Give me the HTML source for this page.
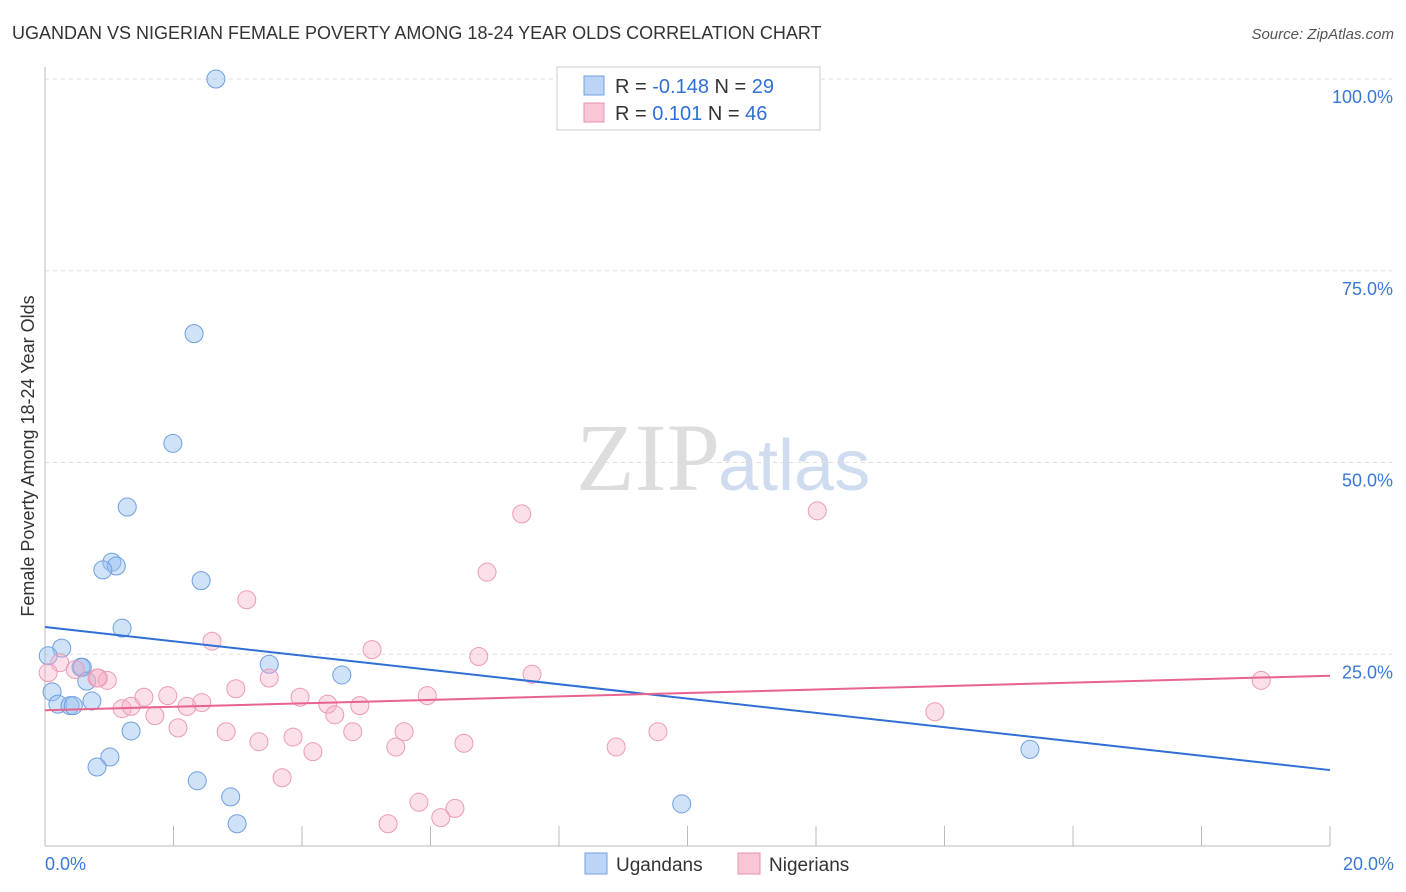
<!DOCTYPE html>
<html><head><meta charset="utf-8"><style>
body{margin:0;background:#fff;font-family:"Liberation Sans",sans-serif}
svg{display:block}
</style></head><body>
<svg id="c" width="1406" height="892">
<text x="12" y="39" font-size="18" fill="#333">UGANDAN VS NIGERIAN FEMALE POVERTY AMONG 18-24 YEAR OLDS CORRELATION CHART</text>
<text x="1394" y="39" font-size="15" fill="#555" font-style="italic" text-anchor="end">Source: ZipAtlas.com</text>
<text x="720" y="490" font-size="96" fill="#ddd" text-anchor="end" font-family="Liberation Serif">ZIP</text>
<text x="718" y="490" font-size="72" fill="#cfdcf0">atlas</text>
<text transform="translate(34,456) rotate(-90)" font-size="18" fill="#333" text-anchor="middle">Female Poverty Among 18-24 Year Olds</text>
<g id="grid"></g><g id="axes"></g><g id="pts"></g><g id="lines"></g>
<g>
<rect x="557" y="67" width="263" height="63" fill="#fff" stroke="#ccc"/>
<rect x="584" y="76" width="20" height="19" fill="#bcd4f5" stroke="#6f9fe0"/>
<rect x="584" y="103" width="20" height="19" fill="#f9c6d6" stroke="#e890ae"/>
<text x="615" y="93" font-size="20" fill="#333">R = <tspan fill="#2f6fd6">-0.148</tspan>   N = <tspan fill="#2f6fd6">29</tspan></text>
<text x="615" y="120" font-size="20" fill="#333">R =   <tspan fill="#2f6fd6">0.101</tspan>   N = <tspan fill="#2f6fd6">46</tspan></text>
</g>
<g>
<rect x="585" y="853" width="22" height="21" fill="#bcd4f5" stroke="#6f9fe0"/>
<text x="616" y="871" font-size="19" fill="#333">Ugandans</text>
<rect x="738" y="853" width="22" height="21" fill="#f9c6d6" stroke="#e890ae"/>
<text x="769" y="871" font-size="19" fill="#333">Nigerians</text>
</g>
</svg>
<script>
const yTicks=[25,50,75,100];
const xTickLabels=["0.0%","20.0%"];
const ugX=[2.66,2.32,1.99,1.28,1.04,1.11,0.90,2.43,1.20,0.26,0.05,0.56,0.58,3.49,4.62,0.65,0.11,0.20,0.39,0.44,0.73,1.34,1.01,0.81,2.37,2.89,2.99,9.91,15.33];
const ugY=[100,66.8,52.5,44.2,37.0,36.5,36.0,34.6,28.4,25.8,24.8,23.3,23.3,23.7,22.3,21.5,20.1,18.5,18.3,18.3,18.9,15.0,11.6,10.3,8.5,6.4,2.9,5.5,12.6];
const ngX=[7.42,12.02,6.88,3.14,2.60,5.09,6.75,7.58,3.49,0.23,0.05,0.47,0.81,0.97,0.83,2.97,1.54,1.91,3.97,5.95,1.20,1.34,2.21,2.44,1.71,4.40,4.90,4.51,2.07,2.82,3.33,3.86,4.79,5.59,4.17,5.46,6.52,8.89,9.54,13.85,18.93,3.69,5.82,6.38,6.16,5.34];
const ngY=[43.3,43.7,35.7,32.1,26.7,25.6,24.7,22.4,21.9,23.9,22.6,23.0,21.9,21.6,21.9,20.5,19.4,19.6,19.4,19.6,17.9,18.2,18.2,18.7,17.0,18.5,18.3,17.1,15.4,14.9,13.6,14.2,14.9,14.9,12.3,12.9,13.4,12.9,14.9,17.5,21.6,8.9,5.7,4.9,3.7,2.9];
const trendUg=[28.55,9.9];
const trendNg=[17.7,22.2];
const X=v=>45+v/20*1285, Y=v=>846-v/100*767;
const NS="http://www.w3.org/2000/svg";
function mk(t,a,p){const e=document.createElementNS(NS,t);for(const k in a)e.setAttribute(k,a[k]);p.appendChild(e);return e;}
const grid=document.getElementById('grid'),axes=document.getElementById('axes'),pts=document.getElementById('pts'),lines=document.getElementById('lines');
yTicks.forEach(t=>{
 const l=mk('line',{x1:45,x2:1392,y1:Y(t),y2:Y(t),stroke:'#ddd','stroke-dasharray':'4,4'},grid);
 
 
 const tx=mk('text',{x:1393,y:Y(t)+24,'font-size':18,fill:'#3a78d8','text-anchor':'end'},grid);
 tx.textContent=t.toFixed(1)+'%';
 
 
});
mk('line',{x1:45,x2:45,y1:67,y2:846,stroke:'#bbb'},axes);
mk('line',{x1:45,x2:1330,y1:846,y2:846,stroke:'#bbb'},axes);
for(let i=1;i<=10;i++){const x=X(i*2);mk('line',{x1:x,x2:x,y1:826,y2:846,stroke:'#bbb'},axes);}
const xl0=mk('text',{x:45,y:870,'font-size':18,fill:'#3a78d8'},axes);xl0.textContent=xTickLabels[0];


const xl1=mk('text',{x:1394,y:870,'font-size':18,fill:'#3a78d8','text-anchor':'end'},axes);xl1.textContent=xTickLabels[1];


ugX.forEach((v,i)=>{const c=mk('circle',{cx:X(v),cy:Y(ugY[i]),r:9,fill:'rgba(150,190,240,0.45)',stroke:'#6f9fe0','stroke-width':1},pts);
 
 });
ngX.forEach((v,i)=>{const c=mk('circle',{cx:X(v),cy:Y(ngY[i]),r:9,fill:'rgba(245,175,200,0.4)',stroke:'#ec9bb6','stroke-width':1},pts);
 
 });
const l1=mk('line',{x1:X(0),y1:Y(trendUg[0]),x2:X(20),y2:Y(trendUg[1]),stroke:'#2f6fd6','stroke-width':2},lines);


const l2=mk('line',{x1:X(0),y1:Y(trendNg[0]),x2:X(20),y2:Y(trendNg[1]),stroke:'#e8638e','stroke-width':2},lines);


</script>
</body></html>
